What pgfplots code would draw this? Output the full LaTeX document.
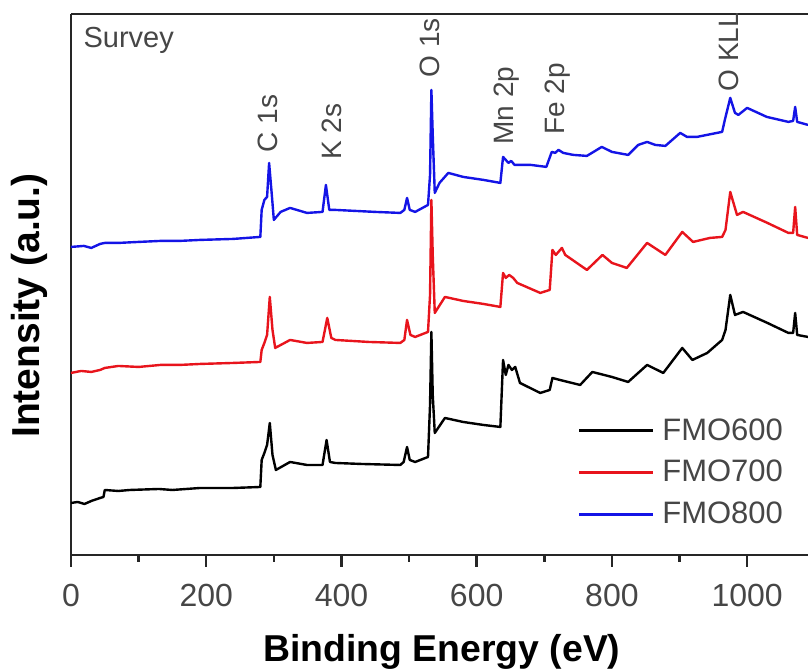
\documentclass[border=0pt]{standalone}
\usepackage{pgfplots}
\pgfplotsset{compat=1.18}
\usepackage{fontspec}
\setmainfont{Liberation Sans}
\definecolor{cblue}{RGB}{20,20,230}
\definecolor{cred}{RGB}{232,20,28}
\definecolor{tgrey}{RGB}{70,70,70}
\begin{document}
\begin{tikzpicture}
\useasboundingbox (-35.5pt,-58.5pt) rectangle (368.5pt,277.5pt);
\begin{axis}[
  at={(0,0)}, anchor=south west,
  width=368.5pt, height=270.5pt, scale only axis,
  xmin=0, xmax=1090, ymin=0, ymax=541,
  axis x line*=box, axis y line*=left,
  axis line style={line width=1.3pt, black!85},
  xtick={0,200,400,600,800,1000},
  minor xtick={100,300,500,700,900,1100},
  xtick pos=bottom,
  ytick=\empty,
  tick align=outside,
  major tick length=6pt, minor tick length=3.5pt,
  every tick/.style={line width=1.2pt, black!85},
  /pgf/number format/1000 sep={},
  /pgf/number format/assume math mode=true,
  xticklabel style={font=\fontsize{16}{19}\selectfont, text=tgrey, yshift=-5pt},
  xlabel={Binding Energy (eV)},
  ylabel={Intensity (a.u.)},
  xlabel style={font=\fontsize{18.7}{22}\selectfont\bfseries, at={(axis description cs:0.503,-0.179)}, anchor=center},
  ylabel style={font=\fontsize{19.5}{23}\selectfont\bfseries, at={(axis description cs:-0.057,0.461)}, anchor=center, rotate=0},
  legend style={draw=none, fill=none, at={(axis cs:740,141)}, anchor=north west,
    font=\fontsize{15.5}{18}\selectfont, text=tgrey, row sep=8.6pt, column sep=4pt,
    nodes={inner sep=0pt}},
  legend cell align=left,
  legend image code/.code={\draw[#1, line width=1.3pt] (0pt,0pt) -- (37pt,0pt);},
  clip=true,
]
% FMO600
\addplot[black, line width=1.2pt, line join=round] coordinates {
(0,52) (10,53) (20,51) (30,54) (43,57) (48,58) (50,65) (70,64) (87,65) (130,66) (150,65) (191,67) (240,67) (280,68) (282,95) (286,102) (290,110)
(294,132) (298,100) (303,85) (324,93) (349,90) (372,90) (378,115) (383,93) (391,92)
(430,91) (487,90) (492,93) (497,108) (501,95) (509,93) (528,98) (531,150) (533,223) (535,160)
(538,122) (553,137) (580,133) (610,130) (635,128) (639,195) (643,180) (647,190) (652,185) (657,188)
(664,172) (694,162) (708,165) (712,177) (723,175) (753,170) (771,183) (800,178) (824,173) (852,190)
(876,182) (904,207) (919,195) (941,202) (963,215) (968,225) (975,260) (982,240) (994,243)
(1030,232) (1061,222) (1068,222) (1071,242) (1074,220) (1090,218)
};
\addlegendentry{FMO600}
% FMO700
\addplot[cred, line width=1.2pt, line join=round] coordinates {
(0,182) (15,184) (30,183) (43,185) (50,187) (70,189) (100,188) (132,190) (160,190) (191,191) (240,192) (280,193) (282,205) (286,212)
(290,220) (294,258) (298,225) (302,207) (324,215) (349,212) (372,213) (379,237) (385,217)
(391,215) (440,213) (487,212) (493,215) (497,235) (502,220) (509,218) (528,223) (531,260) (533,355)
(535,300) (538,242) (553,258) (580,254) (610,251) (635,248) (639,282) (643,277) (648,280) (654,277)
(660,272) (694,262) (708,265) (712,305) (717,300) (726,307) (731,300) (763,285) (786,300)
(800,292) (822,287) (852,312) (879,300) (904,323) (920,313) (945,317) (963,318) (968,325) (975,363)
(985,340) (994,343) (1030,332) (1061,322) (1068,322) (1071,348) (1074,320) (1090,317)
};
\addlegendentry{FMO700}
% FMO800
\addplot[cblue, line width=1.2pt, line join=round] coordinates {
(0,308) (19,309) (30,307) (43,311) (50,312) (70,312) (100,313) (132,314) (160,314) (191,315) (240,316) (280,318) (282,345)
(286,355) (290,358) (293,392) (297,360) (300,335) (310,343) (324,347) (349,342) (372,343)
(377,370) (382,345) (391,345) (450,343) (487,342) (493,345) (497,357) (501,345) (509,343)
(528,350) (531,380) (533,465) (535,420) (538,362) (545,372) (558,382) (580,378) (610,375) (635,372)
(639,398) (643,395) (647,392) (651,394) (656,390) (680,390) (703,388) (711,403) (716,402)
(721,405) (728,402) (743,400) (763,399) (785,408) (800,403) (824,400) (839,410) (852,413) (864,410) (879,409) (901,422)
(911,418) (926,418) (963,423) (967,435) (975,457) (982,442) (987,440) (1000,447) (1029,438)
(1061,433) (1068,434) (1071,448) (1074,433) (1090,430)
};
\addlegendentry{FMO800}
\begin{scope}[every node/.style={font=\fontsize{14}{17}\selectfont, text=tgrey, rotate=90, anchor=west, inner sep=0pt}]
\node at (axis cs:291,402) {C 1s};
\node at (axis cs:386,395) {K 2s};
\node at (axis cs:531,477) {O 1s};
\node at (axis cs:645,410) {Mn 2p};
\node at (axis cs:720,420) {Fe 2p};
\node at (axis cs:973,463) {O KLL};
\end{scope}
\node[font=\fontsize{14.5}{17}\selectfont, text=tgrey, anchor=north west, inner sep=0pt] at (axis cs:18,528) {Survey};
\end{axis}
\end{tikzpicture}
\end{document}
